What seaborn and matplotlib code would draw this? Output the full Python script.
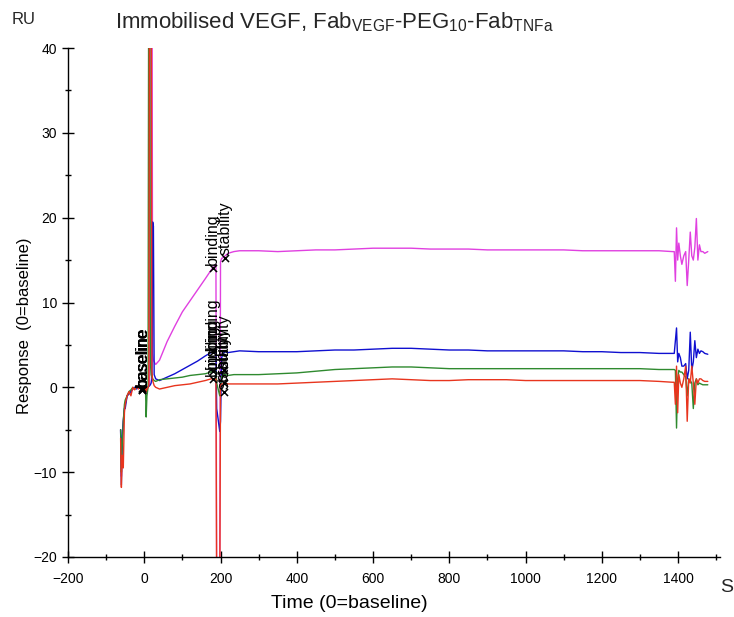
import matplotlib
matplotlib.use("Agg")
import matplotlib.pyplot as plt
from matplotlib.ticker import MultipleLocator
import seaborn as sns
import pandas as pd

# ---------------- data ----------------
time_s = [-62, -60, -58, -55, -52, -50, -45, -40, -35, -30, -25, -20, -15, -10, -5, 0, 3, 5, 7, 10, 12,
          14, 16, 18, 20, 22, 24, 26, 30,
          40, 60, 80, 100, 120, 140, 160, 175, 180, 185,
          188, 190, 198, 200, 203, 207, 212, 220, 235, 250,
          300, 350, 400, 450, 500, 550, 600, 650, 700, 750, 800, 850, 900, 950, 1000, 1050, 1100, 1150,
          1200, 1250, 1300, 1350, 1385,
          1390, 1393, 1396, 1399, 1402, 1406, 1410, 1415, 1420, 1424, 1428, 1432, 1436, 1440, 1444, 1448,
          1452, 1456, 1460, 1465, 1470, 1478]

magenta = [-5, -10.5, -7, -4, -2.5, -2, -1, -0.6, -0.5, -0.2, 0, -0.1, 0, 0.1, -0.2, -0.1, 0.1, -1.0, 0, 0.1, 0.2,
           0.3, 60, 60, 60, 4.0, 3.2, 3.0, 2.7,
           3.2, 5.4, 7.2, 8.9, 10.2, 11.5, 12.8, 13.8, 14.1, 14.4,
           14.5, -25, -25, 14.8, 15.2, 15.3, 15.5, 15.8, 16.0, 16.1,
           16.1, 16.0, 16.1, 16.2, 16.2, 16.3, 16.4, 16.4, 16.4, 16.3, 16.3, 16.3, 16.2, 16.2, 16.2, 16.2,
           16.2, 16.1, 16.1, 16.1, 16.1, 16.1, 16.0,
           16.0, 12.5, 18.8, 15.0, 17.0, 15.5, 14.5, 15.5, 16.0, 12.0, 15.0, 18.3, 15.5, 15.0, 16.5, 19.9,
           15.0, 16.8, 16.0, 16.0, 15.8, 16.0]

blue = [-5, -11.5, -6, -4, -2.5, -2.5, -1, -0.8, -0.5, -0.2, 0, -0.2, 0, 0, -0.3, -0.2, 0.1, -0.3, 0, 0.1, 0.1,
        0.2, 0.3, 0.5, 1.0, 19.5, 19.0, 1.5, 1.0,
        0.8, 1.2, 1.6, 2.1, 2.6, 3.1, 3.7, 4.1, 4.2, 4.4,
        4.5, -2.5, -5.2, -4.0, 3.5, 4.0, 4.2, 4.1, 4.2, 4.3,
        4.2, 4.2, 4.2, 4.3, 4.4, 4.4, 4.5, 4.6, 4.6, 4.5, 4.4, 4.4, 4.3, 4.3, 4.3, 4.3,
        4.3, 4.2, 4.2, 4.1, 4.1, 4.0, 4.0,
        4.0, 5.5, 7.0, 3.0, 4.0, 3.5, 2.5, 2.5, 2.8, 1.0, 2.0, 6.5, 2.0, 3.0, 5.5, 3.5,
        4.5, 4.0, 4.3, 4.2, 4.0, 3.9]

green = [-5, -10, -7, -4, -2, -1.5, -1, -0.5, -0.3, 0, -0.2, 0, 0.1, -0.1, 0, 0, 0.2, -3.5, -1.0, 0, 60,
         60, 3.0, 1.5, 1.2, 1.0, 0.9, 0.8, 0.7,
         0.9, 1.0, 1.1, 1.2, 1.4, 1.5, 1.6, 1.8, 1.9, 1.9,
         1.9, 0.5, -1.0, 0.0, 1.3, 1.5, 1.5, 1.4, 1.5, 1.5,
         1.5, 1.6, 1.7, 1.9, 2.1, 2.2, 2.3, 2.4, 2.4, 2.3, 2.2, 2.2, 2.2, 2.2, 2.2, 2.2,
         2.2, 2.2, 2.2, 2.2, 2.2, 2.1, 2.1,
         2.1, 2.0, -4.8, 1.0, 2.0, 1.8, 1.8, 1.5, 1.2, -1.0, 1.0, 0.8, 0.5, -2.5, 0.5, 1.0,
         0.3, 0.5, 0.4, 0.3, 0.3, 0.3]

red = [-6, -11.8, -8, -9.5, -3, -2, -1, -0.5, -1, 0, -0.3, 0.2, -0.2, 0.1, -0.2, -0.3, 0, -0.5, -0.2, 0, 0.2,
       60, 60, 60, 2.0, 0.8, 0.5, 0.2, 0.0,
       -0.2, 0.0, 0.2, 0.3, 0.4, 0.6, 0.8, 1.0, 1.0, 1.0,
       1.0, -25, -25, 0.3, 0.4, 0.4, 0.5, 0.4, 0.4, 0.4,
       0.4, 0.4, 0.5, 0.6, 0.7, 0.8, 0.9, 1.0, 0.9, 0.8, 0.8, 0.9, 0.9, 0.9, 0.8, 0.8,
       0.8, 0.8, 0.8, 0.8, 0.8, 0.7, 0.6,
       0.6, -2.0, 2.5, -3.0, 1.5, 0.5, 0.0, 1.0, 2.5, -4.0, 1.0, 0.5, 2.5, 0.5, -2.0, 1.0,
       0.5, 1.0, 1.0, 0.8, 0.7, 0.7]

series_names = ["magenta", "blue", "green", "red"]
series_colors = ["#e040e0", "#1010d0", "#2f8a2f", "#e8351e"]

# report-point markers: (label, time, value)
marker_labels = ["baseline", "binding", "stability",
                 "baseline", "binding", "stability",
                 "baseline", "binding", "stability",
                 "baseline", "binding", "stability"]
marker_times = [-5, 180, 212, -5, 180, 210, -5, 180, 208, -5, 180, 210]
marker_values = [-0.2, 14.1, 15.3, -0.3, 4.2, 2.0, -0.1, 1.9, 0.5, -0.3, 1.0, -0.5]

x_ticks = [-200, 0, 200, 400, 600, 800, 1000, 1200, 1400]
y_ticks = [-20, -10, 0, 10, 20, 30, 40]

# ---------------- figure ----------------
sns.set_theme(style="ticks")
plt.rcParams["font.family"] = ["Liberation Sans", "DejaVu Sans"]
plt.rcParams["mathtext.fontset"] = "custom"
plt.rcParams["mathtext.rm"] = "Liberation Sans"
plt.rcParams["mathtext.it"] = "Liberation Sans"

frames = []
values = [magenta, blue, green, red]
for name, vals in zip(series_names, values):
    frames.append(pd.DataFrame({"t": time_s, "r": vals, "series": name}))
df = pd.concat(frames, ignore_index=True)

fig = plt.figure(figsize=(7.34, 6.17), dpi=100)
ax = fig.add_axes([68 / 734, 1 - 557 / 617, (720 - 68) / 734, (557 - 48) / 617])

sns.lineplot(data=df, x="t", y="r", hue="series", palette=dict(zip(series_names, series_colors)),
             estimator=None, sort=False, legend=False, linewidth=1.0, ax=ax)

ax.scatter(marker_times, marker_values, marker="x", color="black", s=26, linewidths=1.1, zorder=5)
for lab, tx, ty in zip(marker_labels, marker_times, marker_values):
    ax.text(tx, ty + 0.3, lab, rotation=90, ha="center", va="bottom", fontsize=11.5,
            color="black", zorder=6)

ax.set_xlim(-200, 1510)
ax.set_ylim(-20, 40)
ax.set_xticks(x_ticks)
ax.set_yticks(y_ticks)
ax.xaxis.set_minor_locator(MultipleLocator(100))
ax.yaxis.set_minor_locator(MultipleLocator(5))
ax.tick_params(which="major", direction="inout", length=9, width=1, colors="black",
               labelsize=10)
ax.tick_params(axis="x", which="major", pad=6)
ax.tick_params(which="minor", direction="inout", length=5, width=1, colors="black")
for s in ["top", "right"]:
    ax.spines[s].set_visible(False)
for s in ["left", "bottom"]:
    ax.spines[s].set_color("black")
    ax.spines[s].set_linewidth(1)

ax.set_xlabel("Time (0=baseline)", fontsize=14, color="black")
ax.set_ylabel("Response  (0=baseline)", fontsize=12, color="black")
ax.xaxis.set_label_coords((349 - 68) / 652, -(604 - 557) / 509)
ax.yaxis.set_label_coords((25 - 68) / 652, (557 - 326) / 509)
ax.xaxis.label.set_va("center")
ax.yaxis.label.set_va("center")

fig.text(12 / 734, 1 - 20 / 617, "RU", fontsize=12, va="center", ha="left")
fig.text(115 / 734, 1 - 22 / 617,
         r"Immobilised VEGF, Fab$_{\mathrm{VEGF}}$-PEG$_{10}$-Fab$_{\mathrm{TNFa}}$",
         fontsize=16, va="center", ha="left")
fig.text(727 / 734, 1 - 588 / 617, "S", fontsize=14, va="center", ha="center")

fig.savefig("out.png", dpi=100)
